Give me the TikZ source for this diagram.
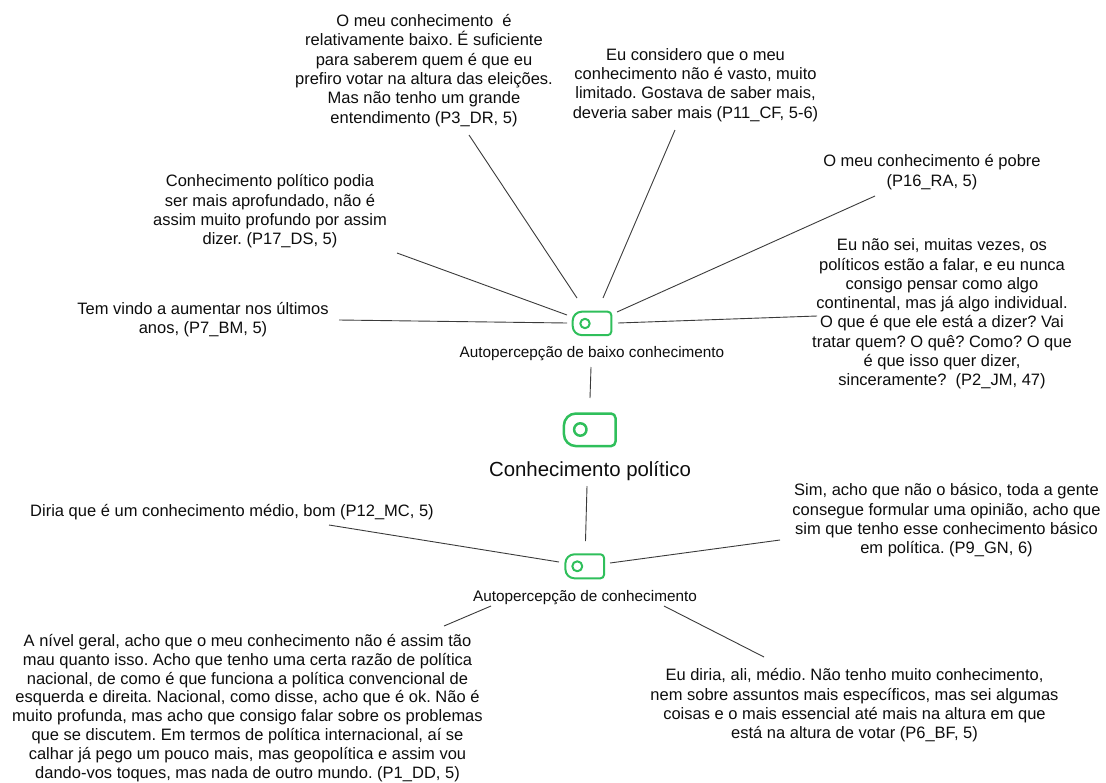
\documentclass[tikz,border=0pt]{standalone}
\usepackage{fontspec}
\setmainfont{Liberation Sans}
\definecolor{icongreen}{HTML}{2FBF5B}
\definecolor{linegray}{HTML}{3A3A3A}
\tikzset{
  quote/.style={align=center,inner sep=0pt,font=\frenchspacing\fontsize{16.5}{19.3}\selectfont,text=black!95},
  tightquote/.style={quote,font=\frenchspacing\fontsize{16.5}{18.9}\selectfont},
  sublabel/.style={inner sep=0pt,font=\fontsize{15.3}{18}\selectfont,text=black!95},
  mainlabel/.style={inner sep=0pt,font=\fontsize{20.4}{24}\selectfont,text=black!95},
  link/.style={draw=linegray,line width=0.9pt},
  iconline/.style={draw=icongreen,line width=#1,line join=round},
}
% centre x, centre y, half width, half height, big radius, small radius, line width, dot path
\newcommand{\tagicon}[8]{%
  \draw[iconline=#7,shift={(#1,#2)}]
    ({-#3},{-#4+#5}) .. controls ({-#3},{-#4+0.45*#5}) and ({-#3+0.45*#5},{-#4}) .. ({-#3+#5},{-#4})
    -- ({#3-#6},{-#4}) .. controls ({#3-0.45*#6},{-#4}) and ({#3},{-#4+0.45*#6}) .. ({#3},{-#4+#6})
    -- ({#3},{#4-#6}) .. controls ({#3},{#4-0.45*#6}) and ({#3-0.45*#6},{#4}) .. ({#3-#6},{#4})
    -- ({-#3+#5},{#4}) .. controls ({-#3+0.45*#5},{#4}) and ({-#3},{#4-0.45*#5}) .. ({-#3},{#4-#5})
    -- cycle;
  \draw[iconline=#7] #8;
}
\begin{document}
\begin{tikzpicture}[x=1pt,y=-1pt]
\useasboundingbox (0,0) rectangle (1106,782);
% icons
\tagicon{592}{323.4}{19.3}{11.7}{9}{3.5}{2pt}{(585,323.5) circle[radius=4.7pt]}
\tagicon{589.7}{429.8}{25.8}{16.3}{12}{4.5}{2.5pt}{(580.3,429.5) circle[radius=6.2pt]}
\tagicon{584.7}{566.3}{19.3}{12}{9}{3.5}{2pt}{(577.3,566.3) circle[radius=5pt]}
% labels
\node[sublabel] (lbaixo) at (592,354) {Autopercepção de baixo conhecimento};
\node[mainlabel] (lpol) at (590,471) {Conhecimento político};
\node[sublabel] (lcon) at (585,597.5) {Autopercepção de conhecimento};
% quotes
\node[quote] (qdr) at (424,70.5) {O meu conhecimento\ \ é\\relativamente baixo. É suficiente\\para saberem quem é que eu\\prefiro votar na altura das eleições.\\Mas não tenho um grande\\entendimento (P3\_DR, 5)};
\node[quote] (qcf) at (695.5,85) {Eu considero que o meu\\conhecimento não é vasto, muito\\limitado. Gostava de saber mais,\\deveria saber mais (P11\_CF, 5-6)};
\node[quote] (qra) at (932,172) {O meu conhecimento é pobre\\(P16\_RA, 5)};
\node[quote] (qds) at (270,211.5) {Conhecimento político podia\\ser mais aprofundado, não é\\assim muito profundo por assim\\dizer. (P17\_DS, 5)};
\node[quote] (qbm) at (203,319.5) {Tem vindo a aumentar nos últimos\\anos, (P7\_BM, 5)};
\node[quote] (qjm) at (942,314) {Eu não sei, muitas vezes, os\\políticos estão a falar, e eu nunca\\consigo pensar como algo\\continental, mas já algo individual.\\O que é que ele está a dizer? Vai\\tratar quem? O quê? Como? O que\\é que isso quer dizer,\\sinceramente?\ \ (P2\_JM, 47)};
\node[quote] (qmc) at (232,512.5) {Diria que é um conhecimento médio, bom (P12\_MC, 5)};
\node[quote] (qgn) at (946.5,520.5) {Sim, acho que não o básico, toda a gente\\consegue formular uma opinião, acho que\\sim que tenho esse conhecimento básico\\em política. (P9\_GN, 6)};
\node[tightquote] (qdd) at (247.5,708) {A nível geral, acho que o meu conhecimento não é assim tão\\mau quanto isso. Acho que tenho uma certa razão de política\\nacional, de como é que funciona a política convencional de\\esquerda e direita. Nacional, como disse, acho que é ok. Não é\\muito profunda, mas acho que consigo falar sobre os problemas\\que se discutem. Em termos de política internacional, aí se\\calhar já pego um pouco mais, mas geopolítica e assim vou\\dando-vos toques, mas nada de outro mundo. (P1\_DD, 5)};
\node[quote] (qbf) at (854.5,705.5) {Eu diria, ali, médio. Não tenho muito conhecimento,\\nem sobre assuntos mais específicos, mas sei algumas\\coisas e o mais essencial até mais na altura em que\\está na altura de votar (P6\_BF, 5)};
% connector ends
\coordinate (a1) at (469,135); \coordinate (b1) at (577,298);
\coordinate (a2) at (675,130); \coordinate (b2) at (603,298);
\coordinate (a3) at (875,196); \coordinate (b3) at (617,312);
\coordinate (a4) at (397,253); \coordinate (b4) at (567,315);
\coordinate (a5) at (339,320); \coordinate (b5) at (567,323);
\coordinate (a6) at (817,316); \coordinate (b6) at (618,323);
\coordinate (a7) at (591,367); \coordinate (b7) at (590,398);
\coordinate (a8) at (587,486); \coordinate (b8) at (585.5,541);
\coordinate (a9) at (329,525); \coordinate (b9) at (559,562);
\coordinate (a10) at (780,540); \coordinate (b10) at (610,563);
\coordinate (a11) at (444,626); \coordinate (b11) at (491,606);
\coordinate (a12) at (764,657); \coordinate (b12) at (664,606);
\foreach \i in {1,...,12}{\draw[link] (a\i) -- (b\i);}
\end{tikzpicture}
\end{document}
